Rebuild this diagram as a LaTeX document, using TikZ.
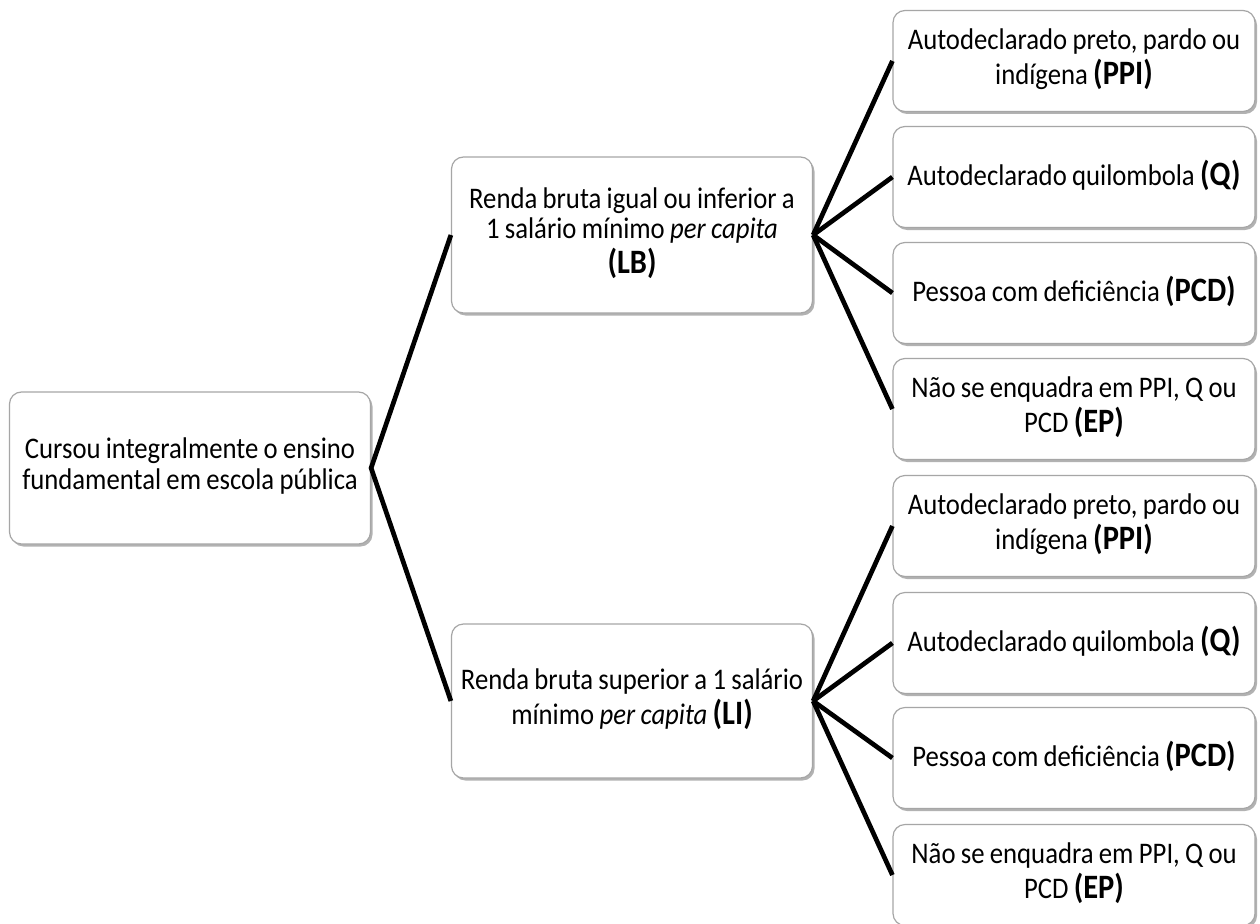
\documentclass[tikz,border=0pt]{standalone}
\usepackage{fontspec}
\usepackage{graphicx}
\setmainfont{Carlito}[WordSpace=0.88]
\usetikzlibrary{shadows}
\newcommand{\bb}[1]{{\fontsize{30.5}{26.5}\selectfont\bfseries #1}}
\newcommand{\tx}[1]{\scalebox{1}[1.12]{\begin{tabular}{@{}c@{}}#1\end{tabular}}}
\tikzset{
  box/.style={draw=gray!70, line width=1.2pt, rounded corners=12pt, fill=white,
    drop shadow={shadow xshift=2pt, shadow yshift=-2.5pt, fill=black, opacity=0.3},
    align=center, inner sep=0pt, font=\fontsize{26.7}{27}\selectfont},
  bigbox/.style={box, minimum width=361pt},
  smallbox/.style={box, minimum width=362pt, minimum height=101pt},
  link/.style={line width=4.7pt, black}
}
\begin{document}
\begin{tikzpicture}[x=1pt,y=-1pt]
\useasboundingbox (0,0) rectangle (1260,923);
\fill[white] (0,0) rectangle (1260,923);
\node[bigbox, minimum height=152pt] (root) at (190,468) {\tx{Cursou integralmente o ensino\\fundamental em escola pública}};
\node[bigbox, minimum height=156pt] (lb) at (632,235) {\tx{Renda bruta igual ou inferior a\\1 salário mínimo \textit{per capita}\\\bb{(LB)}}};
\node[bigbox, minimum height=154pt] (li) at (632,701) {\tx{Renda bruta superior a 1 salário\\mínimo \textit{per capita} \bb{(LI)}}};

\node[smallbox] (ppi1) at (1074,61) {\tx{Autodeclarado preto, pardo ou\\indígena \bb{(PPI)}}};
\node[smallbox] (q1) at (1074,177) {\tx{Autodeclarado quilombola \bb{(Q)}}};
\node[smallbox] (pcd1) at (1074,293) {\tx{Pessoa com deficiência \bb{(PCD)}}};
\node[smallbox] (ep1) at (1074,409) {\tx{Não se enquadra em PPI, Q ou\\PCD \bb{(EP)}}};

\node[smallbox] (ppi2) at (1074,526) {\tx{Autodeclarado preto, pardo ou\\indígena \bb{(PPI)}}};
\node[smallbox] (q2) at (1074,643) {\tx{Autodeclarado quilombola \bb{(Q)}}};
\node[smallbox] (pcd2) at (1074,758) {\tx{Pessoa com deficiência \bb{(PCD)}}};
\node[smallbox] (ep2) at (1074,875) {\tx{Não se enquadra em PPI, Q ou\\PCD \bb{(EP)}}};

\draw[link] (lb.west) -- (root.east) -- (li.west);
\foreach \t in {ppi1,q1,pcd1,ep1}{\draw[link] (lb.east) -- (\t.west);}
\foreach \t in {ppi2,q2,pcd2,ep2}{\draw[link] (li.east) -- (\t.west);}
\end{tikzpicture}
\end{document}
